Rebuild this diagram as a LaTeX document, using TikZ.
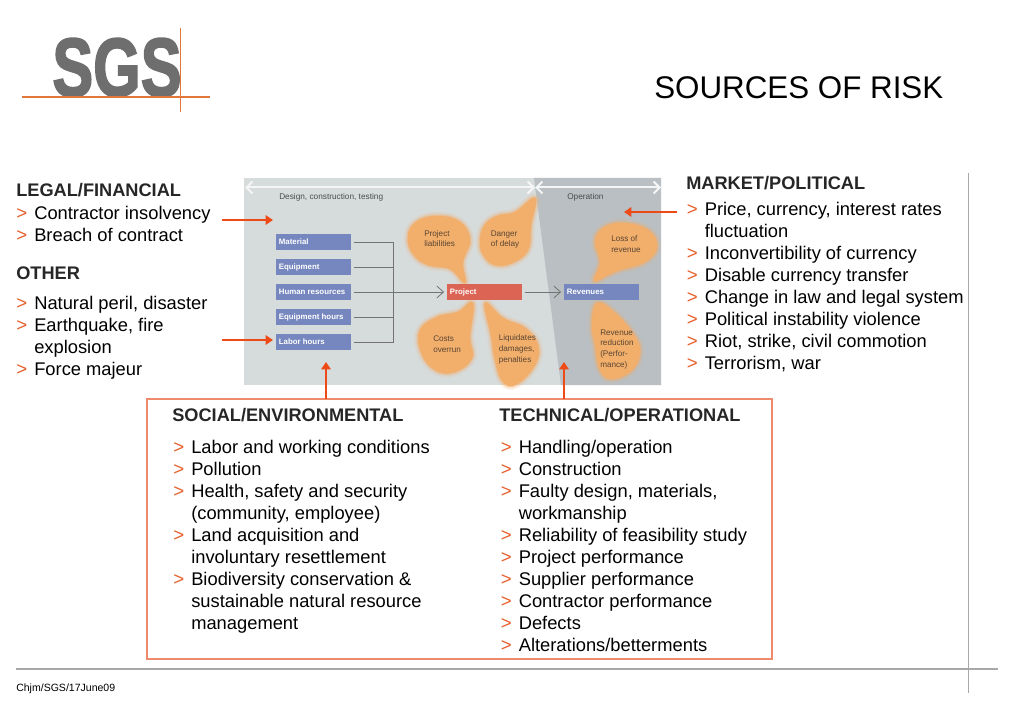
\documentclass[tikz,border=0pt]{standalone}
\usepackage{fontspec}
\setmainfont{Liberation Sans}
\newfontfamily\logofont[FakeBold=2.4]{Liberation Sans}
\usetikzlibrary{arrows.meta}
\definecolor{bgL}{HTML}{D6DBDC}
\definecolor{bgD}{HTML}{B9BFC2}
\definecolor{blueB}{HTML}{7587BE}
\definecolor{redB}{HTML}{DB6455}
\definecolor{blobC}{HTML}{F2AE6B}
\definecolor{arrC}{HTML}{EE4A17}
\definecolor{boxC}{HTML}{F08A6C}
\definecolor{bulC}{HTML}{E8602C}
\definecolor{logoG}{HTML}{6E6E6E}
\definecolor{logoO}{HTML}{E0763A}
\definecolor{ruleG}{HTML}{A8A8A8}
\definecolor{inkB}{HTML}{5A4632}
\tikzset{
 txt/.style={anchor=base west,inner sep=0pt,font=\fontsize{13.75pt}{15pt}\selectfont,text=black},
 bul/.style={anchor=base west,inner sep=0pt,font=\fontsize{14pt}{15pt}\selectfont,text=bulC},
 hdg/.style={txt,font=\bfseries\fontsize{13.65pt}{15pt}\selectfont,text=black!85},
 wbox/.style={fill=blueB,minimum width=56.25pt,minimum height=12pt,inner sep=0pt,text=white,font=\bfseries\fontsize{5.9pt}{7pt}\selectfont},
 rbox/.style={wbox,fill=redB},
 small/.style={anchor=base west,inner sep=0pt,align=left,text=inkB,font=\fontsize{6.1pt}{8pt}\selectfont},
 band/.style={anchor=base west,inner sep=0pt,text=black!70,font=\fontsize{6.2pt}{7pt}\selectfont},
 feed/.style={draw=black!55,line width=.6pt},
 flow/.style={feed,-{Straight Barb[length=5pt,width=9pt]}},
 risk/.style={draw=arrC,line width=2pt,-{Triangle[length=5.5pt,width=7pt]}},
 span/.style={draw=white!96!black,line width=1.5pt,{Straight Barb[length=4.5pt,width=9pt]}-{Straight Barb[length=4.5pt,width=9pt]}},
}
\newcommand{\blobshape}[1]{%
 \draw[draw=blobC,fill=blobC,opacity=.15,line width=6pt,line join=round] plot[smooth cycle,tension=.7] coordinates {#1};
 \draw[draw=blobC,fill=blobC,opacity=.25,line width=3.5pt,line join=round] plot[smooth cycle,tension=.7] coordinates {#1};
 \draw[draw=blobC,fill=blobC,opacity=.45,line width=1.5pt,line join=round] plot[smooth cycle,tension=.7] coordinates {#1};
 \fill[blobC] plot[smooth cycle,tension=.7] coordinates {#1};}
\newcommand{\hd}[4]{\node[hdg] (#1) at (#2,-#3) {#4};}
\newcommand{\blt}[4]{\node[bul] (#1b) at (#2,-#3) {>};\node[txt] (#1) at (#2+18,-#3) {#4};}
\newcommand{\cnt}[4]{\node[txt] (#1) at (#2+18,-#3) {#4};}
\begin{document}
\begin{tikzpicture}[x=.75pt,y=.75pt]
\useasboundingbox (0,0) rectangle (1024,-709);
\fill[white] (0,0) rectangle (1024,-709);
% logo
\node[anchor=base,inner sep=0pt,text=logoG,font=\logofont\bfseries\fontsize{62pt}{62pt}\selectfont,xscale=.74,transform shape] (logo) at (117,-96) {SGS};
\coordinate (lgW) at (22,-97);\coordinate (lgE) at (210,-97);\coordinate (lgN) at (180.5,-28);\coordinate (lgS) at (180.5,-112);
\draw[logoO,line width=.8pt] (lgW)--(lgE);
\draw[logoO,line width=.8pt] (lgN)--(lgS);
% title
\node[anchor=base west,inner sep=0pt,font=\fontsize{23.5pt}{26pt}\selectfont] (title) at (654,-99) {SOURCES OF RISK};
% rules
\coordinate (ruleW) at (16,-669);\coordinate (ruleE) at (998,-669);\coordinate (ruleN) at (968.5,-173);\coordinate (ruleS) at (968.5,-693);
\draw[ruleG,line width=.8pt] (ruleW)--(ruleE);
\draw[ruleG,line width=.8pt] (ruleN)--(ruleS);
\node[anchor=base west,inner sep=0pt,font=\fontsize{7.9pt}{9pt}\selectfont] (foot) at (16,-691) {Chjm/SGS/17June09};
% image panel
\fill[bgL] (244,-178) rectangle (661,-385);
\fill[bgD] (534,-178)--(661,-178)--(661,-385)--(561,-385)--cycle;
\coordinate (spA) at (245,-187.5);\coordinate (spB) at (535,-187.5);\coordinate (spC) at (661,-187.5);
\draw[span] (spA)--(spB);
\draw[span] (spB)--(spC);
\node[band] (t1) at (279,-199.5) {Design, construction, testing};
\node[band] (t2) at (567,-199.5) {Operation};
% blobs
\blobshape{(408,-237)(416,-222)(437,-216)(460,-222)(470,-240)(463,-262)(465,-283)(450,-269)(428,-265)(413,-254)}
\blobshape{(480,-243)(484,-226)(497,-216)(515,-212)(535,-198)(531,-225)(528,-250)(512,-263)(495,-265)(484,-256)}
\blobshape{(595,-242)(603,-228)(623,-223)(648,-230)(657,-247)(645,-262)(620,-270)(608,-275)(594,-281)(600,-262)}
\blobshape{(473,-303)(470,-337)(472,-358)(455,-372)(435,-370)(421,-352)(420,-330)(437,-317)(458,-312)}
\blobshape{(485,-303)(503,-318)(525,-328)(538,-345)(535,-365)(517,-384)(503,-382)(495,-360)(491,-335)}
\blobshape{(597,-303)(615,-313)(634,-335)(640,-352)(632,-370)(612,-379)(600,-370)(595,-345)(592,-325)}
\node[small] (b1) at (424,-247) {Project\\liabilities};
\node[small] (b2) at (490.5,-247) {Danger\\of delay};
\node[small] (b3) at (611,-252.5) {Loss of\\revenue};
\node[small] (b4) at (433,-352) {Costs\\overrun};
\node[small] (b5) at (498.5,-362) {Liquidates\\damages,\\penalties};
\node[small] (b6) at (600,-367) {Revenue\\reduction\\(Perfor-\\mance)};
% boxes
\node[wbox] (mat) at (313.5,-242) {\makebox[52pt][l]{Material}};
\node[wbox] (eq) at (313.5,-267) {\makebox[52pt][l]{Equipment}};
\node[wbox] (hr) at (313.5,-292) {\makebox[52pt][l]{Human resources}};
\node[wbox] (eh) at (313.5,-317) {\makebox[52pt][l]{Equipment hours}};
\node[wbox] (lh) at (313.5,-342) {\makebox[52pt][l]{Labor hours}};
\node[rbox] (prj) at (484.5,-292) {\makebox[52pt][l]{Project}};
\node[wbox] (rev) at (601.5,-292) {\makebox[52pt][l]{Revenues}};
% feed lines
\coordinate (busT) at (393,-242);\coordinate (busB) at (393,-342);
\draw[feed] ([xshift=2pt]mat.east)--(busT)--(busB)--([xshift=2pt]lh.east);
\draw[feed] ([xshift=2pt]eq.east)--(393,-267);
\draw[feed] ([xshift=2pt]eh.east)--(393,-317);
\draw[flow] ([xshift=2pt]hr.east)--([xshift=-2pt]prj.west);
\draw[flow] ([xshift=2pt]prj.east)--([xshift=-2pt]rev.west);
% outer box
\node[draw=boxC,line width=1.3pt,fill=white,minimum width=469pt,minimum height=195pt,inner sep=0pt,outer sep=0pt,anchor=north west] (frame) at (147,-399) {};
% risk arrows
\coordinate (a1s) at (222,-220);\coordinate (a1e) at (273,-220);
\coordinate (a2s) at (222,-340);\coordinate (a2e) at (273,-340);
\coordinate (a3s) at (677,-212);\coordinate (a3e) at (624,-212);
\coordinate (a4e) at (326,-362);\coordinate (a5e) at (564,-362);
\draw[risk] (a1s)--(a1e);
\draw[risk] (a2s)--(a2e);
\draw[risk] (a3s)--(a3e);
\draw[risk] (frame.north west -| a4e)--(a4e);
\draw[risk] (frame.north west -| a5e)--(a5e);
% left
\hd{lf}{16}{197}{LEGAL/FINANCIAL}
\blt{l1}{16}{219.5}{Contractor insolvency}
\blt{l2}{16}{241.5}{Breach of contract}
\hd{oh}{16}{280}{OTHER}
\blt{o1}{16}{309}{Natural peril, disaster}
\blt{o2}{16}{331}{Earthquake, fire}
\cnt{o2c}{16}{353}{explosion}
\blt{o3}{16}{375}{Force majeur}
% market
\hd{mp}{686}{189.5}{MARKET/POLITICAL}
\blt{m1}{686.5}{215.5}{Price, currency, interest rates}
\cnt{m1c}{686.5}{237.5}{fluctuation}
\blt{m2}{686.5}{259.5}{Inconvertibility of currency}
\blt{m3}{686.5}{281.5}{Disable currency transfer}
\blt{m4}{686.5}{303.5}{Change in law and legal system}
\blt{m5}{686.5}{325.5}{Political instability violence}
\blt{m6}{686.5}{347.5}{Riot, strike, civil commotion}
\blt{m7}{686.5}{369.5}{Terrorism, war}
% social
\hd{se}{172}{421.5}{SOCIAL/ENVIRONMENTAL}
\blt{s1}{173}{453}{Labor and working conditions}
\blt{s2}{173}{475}{Pollution}
\blt{s3}{173}{497}{Health, safety and security}
\cnt{s3c}{173}{519}{(community, employee)}
\blt{s4}{173}{541}{Land acquisition and}
\cnt{s4c}{173}{563}{involuntary resettlement}
\blt{s5}{173}{585}{Biodiversity conservation \&}
\cnt{s5c}{173}{607}{sustainable natural resource}
\cnt{s5d}{173}{629}{management}
% technical
\hd{te}{499}{421.5}{TECHNICAL/OPERATIONAL}
\blt{e1}{500.5}{453}{Handling/operation}
\blt{e2}{500.5}{475}{Construction}
\blt{e3}{500.5}{497}{Faulty design, materials,}
\cnt{e3c}{500.5}{519}{workmanship}
\blt{e4}{500.5}{541}{Reliability of feasibility study}
\blt{e5}{500.5}{563}{Project performance}
\blt{e6}{500.5}{585}{Supplier performance}
\blt{e7}{500.5}{607}{Contractor performance}
\blt{e8}{500.5}{629}{Defects}
\blt{e9}{500.5}{651}{Alterations/betterments}
\end{tikzpicture}
\end{document}
